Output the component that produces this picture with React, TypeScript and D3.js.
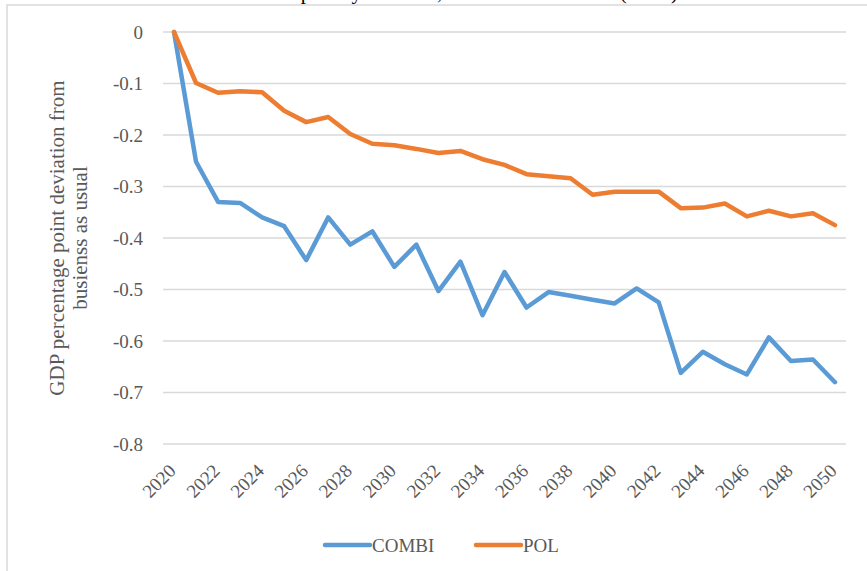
import * as d3 from 'd3'

const years = d3.range(2020, 2051).map(String)
const combi = [
  0, -0.252, -0.33, -0.332, -0.36, -0.377, -0.443, -0.36, -0.413, -0.387, -0.456,
  -0.413, -0.503, -0.446, -0.55, -0.466, -0.535, -0.505, -0.512, -0.52, -0.527,
  -0.498, -0.525, -0.662, -0.621, -0.645, -0.665, -0.593, -0.639, -0.636, -0.68,
]
const pol = [
  0, -0.099, -0.118, -0.115, -0.117, -0.153, -0.175, -0.165, -0.198, -0.217, -0.22,
  -0.227, -0.235, -0.231, -0.247, -0.258, -0.276, -0.28, -0.284, -0.316, -0.31,
  -0.31, -0.31, -0.342, -0.341, -0.333, -0.358, -0.347, -0.358, -0.352, -0.375,
]
const yTicks = [0, -0.1, -0.2, -0.3, -0.4, -0.5, -0.6, -0.7, -0.8]
const xTickLabels = years.filter((_, i) => i % 2 === 0)
const seriesList = [
  { name: 'COMBI', values: combi, color: '#5B9BD5' },
  { name: 'POL', values: pol, color: '#ED7D31' },
]

const W = 867
const H = 571
const font = '"Liberation Serif", "Times New Roman", serif'

// excel-style labels: plain hyphen for minus
const fmt = (t: number) => (t === 0 ? '0' : d3.format('.1f')(t).replace('\u2212', '-'))

export default function App() {
  const left = 163
  const right = 846
  const top = 32
  const bottom = 444

  const x = d3.scaleBand<string>().domain(years).range([left, right])
  const y = d3.scaleLinear().domain([-0.8, 0]).range([bottom, top])
  const cx = (yr: string) => x(yr)! + x.bandwidth() / 2

  const line = d3.line<number>()
    .x((_, i) => cx(years[i]))
    .y(d => y(d))

  return (
    <svg width={W} height={H} style={{ position: 'absolute', left: 0, top: 0, background: '#fff' }}
      fontFamily={font}>
      <rect x={7} y={5} width={W + 10} height={H + 10} fill="#fff" stroke="#D9D9D9" strokeWidth={1.5} />
      <text x={455} y={-1} textAnchor="middle" fontSize={21} fill="#000">
        GDP impact by scenario, deviation from base (BAU)
      </text>

      {/* gridlines */}
      {yTicks.map(t => (
        <line key={t} x1={left} x2={right} y1={y(t)} y2={y(t)} stroke="#D9D9D9" strokeWidth={1.5} />
      ))}

      {/* y tick labels */}
      {yTicks.map(t => (
        <text key={t} x={143} y={y(t)} dy="0.35em" textAnchor="end" fontSize={19} fill="#595959">
          {fmt(t)}
        </text>
      ))}

      {/* x tick labels */}
      {xTickLabels.map(yr => (
        <text key={yr} transform={`translate(${cx(yr) + 3},${bottom + 28}) rotate(-45)`}
          textAnchor="end" fontSize={19} fill="#595959">
          {yr}
        </text>
      ))}

      {/* y axis title */}
      <text transform={`translate(66,${(top + bottom) / 2}) rotate(-90)`} textAnchor="middle"
        fontSize={21} fill="#595959">
        <tspan x={0} dy="-0.1em">GDP percentage point deviation from</tspan>
        <tspan x={0} dy="1.1em">busienss as usual</tspan>
      </text>

      {/* series */}
      {seriesList.map(s => (
        <path key={s.name} d={line(s.values) ?? ''} fill="none" stroke={s.color}
          strokeWidth={4.5} strokeLinejoin="round" strokeLinecap="round" />
      ))}

      {/* legend */}
      {seriesList.map((s, i) => {
        const lx = 325 + i * 151
        return (
          <g key={s.name}>
            <line x1={lx} x2={lx + 45} y1={545} y2={545} stroke={s.color} strokeWidth={4.5} strokeLinecap="round" />
            <text x={lx + 47} y={545} dy="0.35em" fontSize={19} fill="#595959">{s.name}</text>
          </g>
        )
      })}
    </svg>
  )
}
